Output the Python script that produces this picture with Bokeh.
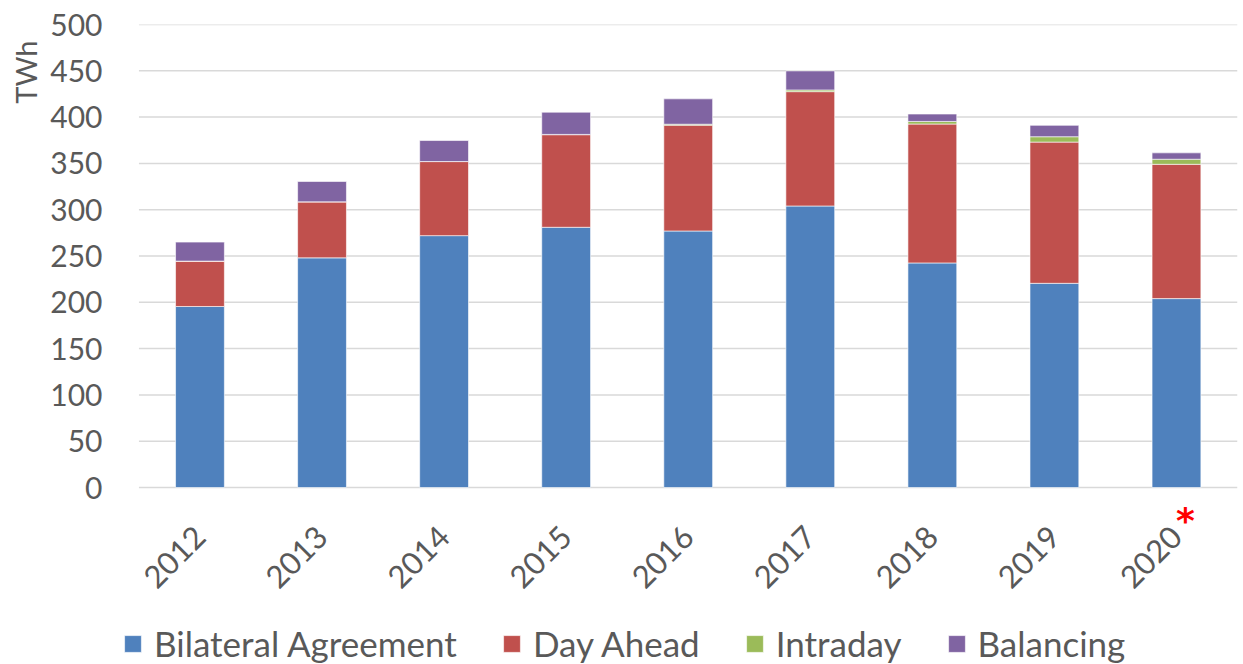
import math
from bokeh.plotting import figure
from bokeh.models import Legend, Range1d, FixedTicker, Title
from bokeh.core.properties import value
from bokeh.embed import file_html
from bokeh.resources import INLINE

years = ["2012", "2013", "2014", "2015", "2016", "2017", "2018", "2019", "2020"]
bilateral = [195.5, 248, 272, 281, 277, 304, 242.5, 220.5, 204]
day_ahead = [49, 60.5, 80, 100, 114.3, 123.5, 150, 152.5, 145]
intraday = [0, 0, 0, 0.3, 1, 1.8, 2.8, 5.8, 5.5]
balancing = [20.5, 22, 22.7, 24, 27.4, 20.6, 8, 12.3, 6.9]
series = ["Bilateral Agreement", "Day Ahead", "Intraday", "Balancing"]
colors = ["#4F81BD", "#C0504D", "#9BBB59", "#8064A2"]
y_ticks = [0, 50, 100, 150, 200, 250, 300, 350, 400, 450, 500]
note_year_index = [8]
note_mark = ["*"]

FONT = "Lato"
TXT = "#595959"

xpos = list(range(len(years)))  # category slots 0..8

# ranges extended beyond the category area so labels/legend live inside the frame
p = figure(x_range=Range1d(-0.733, 8.5), y_range=Range1d(-191.14, 500),
           width=1243, height=664, output_backend="svg", toolbar_location=None,
           min_border_left=110, min_border_right=6, min_border_top=24, min_border_bottom=0)
p.outline_line_color = None

# gridlines over the category area only
p.segment(x0=[-0.5] * len(y_ticks), x1=[len(years) - 0.5] * len(y_ticks),
          y0=y_ticks, y1=y_ticks, line_color="#d9d9d9", line_width=1.5)

data = {"x": xpos, series[0]: bilateral, series[1]: day_ahead,
        series[2]: intraday, series[3]: balancing}
rs = p.vbar_stack(series, x="x", width=0.4, color=colors, source=data,
                  line_color="white", line_alpha=0.6, line_width=1)

p.xaxis.visible = False
p.xgrid.grid_line_color = None
p.ygrid.grid_line_color = None
p.yaxis.ticker = FixedTicker(ticks=y_ticks)
p.yaxis.axis_line_color = None
p.yaxis.major_tick_line_color = None
p.yaxis.minor_tick_line_color = None
p.yaxis.major_tick_out = 0
p.yaxis.major_tick_in = 0
p.yaxis.major_label_standoff = 8
p.yaxis.major_label_text_font = FONT
p.yaxis.major_label_text_font_size = "30px"
p.yaxis.major_label_text_color = TXT

p.add_layout(Title(text="TWh", align="right", offset=16, text_font=FONT,
                   text_font_size="29px", text_font_style="normal", text_color=TXT), "left")

# year labels below the zero line
p.text(x=xpos, y=[0] * len(years), text=years, angle=math.pi / 4,
       text_align="right", text_baseline="middle", y_offset=44,
       text_font=value(FONT), text_font_size="31px", text_color=TXT)
# red note mark after 2020
p.text(x=note_year_index, y=[0], text=note_mark, x_offset=9, y_offset=33,
       text_align="center", text_baseline="alphabetic",
       text_font=value("DejaVu Sans"), text_font_size="36px", text_font_style="bold",
       text_color="#FF0000")

legend = Legend(items=[(s, [r]) for s, r in zip(series, rs)], orientation="horizontal",
                location=(12, 0), padding=0, margin=0, spacing=44,
                glyph_width=21, glyph_height=21, label_standoff=11,
                label_text_font=FONT, label_text_font_size="35px", label_text_color=TXT,
                border_line_color=None, background_fill_alpha=0)
p.add_layout(legend, "center")

open("out.html", "w").write(file_html(p, INLINE))
